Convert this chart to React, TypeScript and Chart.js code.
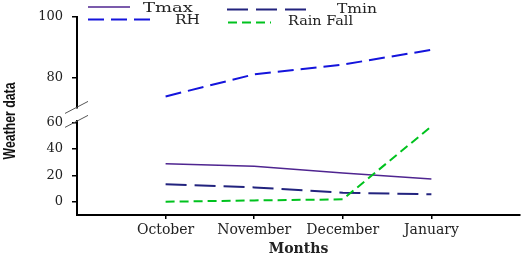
import React, { useEffect, useRef } from 'react';
import { Chart, registerables } from 'chart.js';

Chart.register(...registerables);

const months = ['October', 'November', 'December', 'January'];
const tmax = [28.8, 27.0, 21.8, 17.2];
const tmin = [13.2, 10.9, 6.8, 5.6];
const rh = [74.0, 81.2, 84.4, 89.2];
const rainFall = [0.0, 1.0, 1.8, 57.3];
const lowTicks = [0, 20, 40, 60];
const highTicks = [80, 100];
const monthIndex = [0, 1, 2, 3];

const Y_TICK_FONT = { family: 'DejaVu Serif', size: 13 };
const X_TICK_FONT = { family: 'DejaVu Serif', size: 14 };
const AXIS_LEFT = 77;

const legendLayout = [
  { label: 'Tmax', x1: 88, x2: 130, y: 7, tx: 143, ty: 9, w: 50 },
  { label: 'RH', x1: 88, x2: 151, y: 19.5, tx: 175, ty: 21, w: 25 },
  { label: 'Tmin', x1: 227, x2: 307, y: 9.5, tx: 337, ty: 10, w: 40 },
  { label: 'Rain Fall', x1: 228, x2: 271, y: 22.5, tx: 288, ty: 22, w: 65 },
];

const extrasPlugin = {
  id: 'extras',
  afterDraw(chart: any) {
    const ctx = chart.ctx;
    ctx.save();
    // legend
    ctx.font = '13px "DejaVu Serif"';
    ctx.textBaseline = 'middle';
    ctx.textAlign = 'left';
    for (const item of legendLayout) {
      const ds = chart.data.datasets.find((d: any) => d.label === item.label);
      if (!ds) continue;
      ctx.beginPath();
      ctx.strokeStyle = ds.borderColor;
      ctx.lineWidth = ds.borderWidth;
      ctx.setLineDash(ds.borderDash || []);
      ctx.moveTo(item.x1, item.y);
      ctx.lineTo(item.x2, item.y);
      ctx.stroke();
      ctx.setLineDash([]);
      ctx.fillStyle = '#222';
      const natural = ctx.measureText(item.label).width;
      const sx = item.w / natural;
      ctx.save();
      ctx.translate(item.tx, item.ty);
      ctx.scale(sx, 1);
      ctx.fillText(item.label, 0, 0);
      ctx.restore();
    }
    // axis break marks
    const gap = chart.scales.yGap;
    const left = chart.chartArea.left;
    ctx.strokeStyle = '#555';
    ctx.lineWidth = 1;
    for (const yy of [gap.top, gap.bottom]) {
      ctx.beginPath();
      ctx.moveTo(left - 12, yy + 6);
      ctx.lineTo(left + 11, yy - 6);
      ctx.stroke();
    }
    // y title
    ctx.translate(11, 121);
    ctx.rotate(-Math.PI / 2);
    ctx.font = 'bold 16px "Liberation Sans", sans-serif';
    const tw = ctx.measureText('Weather data').width;
    ctx.scale(77 / tw, 1);
    ctx.fillStyle = '#111';
    ctx.textAlign = 'center';
    ctx.textBaseline = 'middle';
    ctx.fillText('Weather data', 0, 0);
    ctx.restore();
  },
};

const toPoints = (arr: number[]) => arr.map((v, i) => ({ x: monthIndex[i], y: v }));

export default function App() {
  const canvasRef = useRef<HTMLCanvasElement | null>(null);

  useEffect(() => {
    document.body.style.margin = '0';
    const canvas = canvasRef.current;
    if (!canvas) return;
    const yCommon = (ticksArr: number[] | null) => ({
      type: 'linear' as const,
      position: 'left' as const,
      stack: 'y',
      border: { display: ticksArr !== null, color: '#000', width: 2 },
      grid: {
        display: ticksArr !== null,
        drawOnChartArea: false,
        drawTicks: true,
        tickLength: 5,
        color: '#000',
        lineWidth: 1.5,
      },
      ticks: {
        display: ticksArr !== null,
        font: Y_TICK_FONT,
        color: '#222',
        padding: 9,
      },
      afterBuildTicks: (scale: any) => {
        if (ticksArr) scale.ticks = ticksArr.map((v) => ({ value: v }));
      },
      afterFit: (scale: any) => {
        scale.width = AXIS_LEFT;
      },
    });

    const chart = new Chart(canvas, {
      type: 'line',
      data: {
        datasets: [
          {
            label: 'Tmax',
            data: toPoints(tmax),
            yAxisID: 'yLow',
            borderColor: '#4f2590',
            borderWidth: 1.5,
            pointRadius: 0,
            order: 2,
          },
          {
            label: 'Tmin',
            data: toPoints(tmin),
            yAxisID: 'yLow',
            borderColor: '#22237e',
            borderWidth: 2,
            borderDash: [21, 8],
            pointRadius: 0,
            order: 2,
          },
          {
            label: 'RH',
            data: toPoints(rh),
            yAxisID: 'yHigh',
            borderColor: '#1414dc',
            borderWidth: 2,
            borderDash: [16, 7],
            pointRadius: 0,
            order: 2,
          },
          {
            label: 'Rain Fall',
            data: toPoints(rainFall),
            yAxisID: 'yLow',
            borderColor: '#00c21e',
            borderWidth: 2,
            borderDash: [9, 5],
            pointRadius: 0,
            order: 0,
          },
        ] as any,
      },
      options: {
        animation: false,
        responsive: false,
        layout: { padding: { top: 16, right: 6, left: 0, bottom: 0 } },
        plugins: {
          legend: { display: false },
          tooltip: { enabled: false },
        },
        scales: {
          x: {
            type: 'linear',
            min: -1,
            max: 4,
            position: 'bottom',
            border: { display: true, color: '#000', width: 2 },
            grid: {
              display: true,
              drawOnChartArea: false,
              drawTicks: true,
              tickLength: 4,
              color: '#000',
              lineWidth: 1.5,
            },
            ticks: {
              font: X_TICK_FONT,
              color: '#222',
              padding: 3,
              autoSkip: false,
              maxRotation: 0,
              callback: (v: any) => months[v as number] ?? '',
            },
            afterBuildTicks: (scale: any) => {
              scale.ticks = monthIndex.map((v) => ({ value: v }));
            },
            afterFit: (scale: any) => {
              scale.height = 43;
            },
            title: {
              display: true,
              text: 'Months',
              font: { family: 'DejaVu Serif', size: 14, weight: 'bold' },
              color: '#222',
              padding: { top: 0, bottom: 0 },
            },
          },
          yLow: { ...yCommon(lowTicks), min: -10.1, max: 61.1, stackWeight: 94, weight: 1 },
          yGap: { ...yCommon(null), min: 0, max: 1, stackWeight: 14, weight: 2 },
          yHigh: { ...yCommon(highTicks), min: 70.4, max: 100, stackWeight: 91, weight: 3 },
        } as any,
      },
      plugins: [extrasPlugin],
    });
    return () => chart.destroy();
  }, []);

  return (
    <div style={{ width: 526, height: 258, position: 'relative' }}>
      <canvas ref={canvasRef} width={526} height={258} />
    </div>
  );
}
